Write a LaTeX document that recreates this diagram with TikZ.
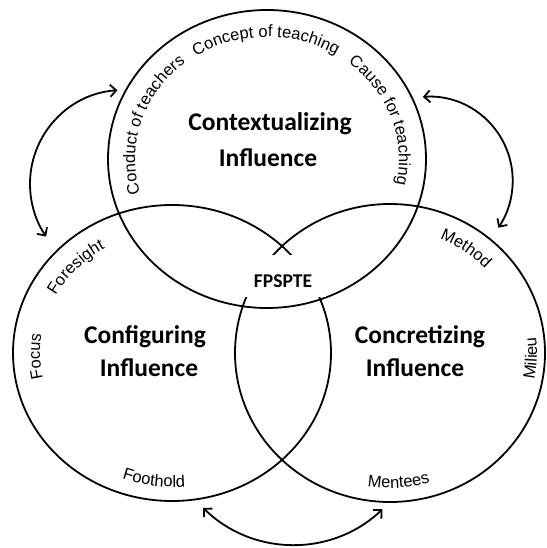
\documentclass[tikz,border=0pt]{standalone}
\usepackage{fontspec}
\usetikzlibrary{arrows.meta,calc,decorations.text}
\newfontfamily\calibf{Carlito}
\newfontfamily\arialf{Liberation Sans}
\newcommand\lblfont{\arialf\fontsize{16.5pt}{18pt}\selectfont}
\begin{document}
\begin{tikzpicture}[x=1pt,y=1pt,
  ring/.style={draw=black, line width=1.8pt},
  bigtxt/.style={font=\calibf\bfseries\fontsize{25.5pt}{30pt}\selectfont, anchor=base, inner sep=0pt},
  fptxt/.style={font=\calibf\bfseries\fontsize{19.5pt}{22pt}\selectfont, fill=white, inner sep=0pt, text height=26pt, text depth=4pt, minimum width=86pt, minimum height=42pt},
  swaparrow/.style={line width=1.8pt, {Straight Barb[length=6pt,width=12pt]}-{Straight Barb[length=6pt,width=12pt]}},
  along/.style={decorate, decoration={text along path, text={|\lblfont|#1}, text align=center}}
]
\useasboundingbox (0,0) rectangle (546,-548);
\coordinate (T) at (267,-159);
\coordinate (L) at (172,-353);
\coordinate (R) at (390,-353);
\draw[ring] (T) ellipse[x radius=159pt, y radius=149pt];
\draw[ring] (L) ellipse[x radius=159pt, y radius=148pt];
\draw[ring] (R) ellipse[x radius=155pt, y radius=149pt];
\node[fptxt] (fp) at (283,-276) {FPSPTE};

\node[bigtxt] (ctx) at (270,-131) {Contextualizing};
\node[bigtxt] (ctxi) at (268,-167) {Influence};
\node[bigtxt] (cfg) at (145,-343) {Configuring};
\node[bigtxt] (cfgi) at (149,-376) {Influence};
\node[bigtxt] (ccr) at (420,-343) {Concretizing};
\node[bigtxt] (ccri) at (415,-376) {Influence};

% top circle labels
\path[along={Conduct of teachers}] ($(T)+(210:132pt and 122pt)$) arc[start angle=210, end angle=115, x radius=132pt, y radius=122pt];
\path[along={Concept of teaching}] ($(T)+(135:132pt and 122pt)$) arc[start angle=135, end angle=46, x radius=132pt, y radius=122pt];
\path[along={Cause for teaching}] ($(T)+(55:132pt and 122pt)$) arc[start angle=55, end angle=-15, x radius=132pt, y radius=122pt];
% left circle labels
\path[along={Foresight}] ($(L)+(166:132pt and 121pt)$) arc[start angle=166, end angle=107, x radius=132pt, y radius=121pt];
\path[along={Focus}] ($(L)+(211:132pt and 121pt)$) arc[start angle=211, end angle=152, x radius=132pt, y radius=121pt];
\path[along={Foothold}] ($(L)+(237:145pt and 134pt)$) arc[start angle=237, end angle=288, x radius=145pt, y radius=134pt];
% right circle labels
\path[along={Method}] ($(R)+(80:130pt and 124pt)$) arc[start angle=80, end angle=30, x radius=130pt, y radius=124pt];
\path[along={Milieu}] ($(R)+(-30:147pt and 141pt)$) arc[start angle=-30, end angle=25.6, x radius=147pt, y radius=141pt];
\path[along={Mentees}] ($(R)+(244:141pt and 135pt)$) arc[start angle=244, end angle=303.4, x radius=141pt, y radius=135pt];

% arrows
\coordinate (A1) at (124,-184);
\coordinate (A2) at (428.7,-180.7);
\coordinate (A3) at (293.5,-415.8);
\draw[swaparrow] ($(A1)+(94:94pt)$) arc[start angle=94, end angle=214, radius=94pt];
\draw[swaparrow] ($(A2)+(94:84pt)$) arc[start angle=94, end angle=-34, radius=84pt];
\draw[swaparrow] ($(A3)+(225.5:129pt)$) arc[start angle=225.5, end angle=313.6, radius=129pt];
\end{tikzpicture}
\end{document}
